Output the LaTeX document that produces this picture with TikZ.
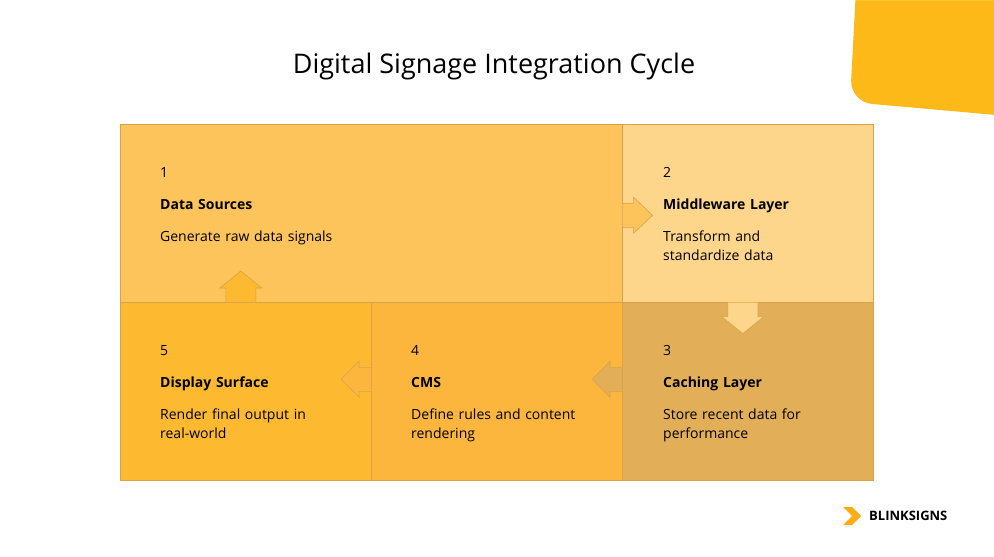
\documentclass[tikz,border=0pt]{standalone}
\usepackage{fontspec}
\setmainfont{Open Sans}
\usepackage{xcolor}
\usetikzlibrary{positioning}
\definecolor{pone}{HTML}{FDC45C}
\definecolor{ptwo}{HTML}{FED68B}
\definecolor{pthree}{HTML}{E2AE58}
\definecolor{pfour}{HTML}{FCB53D}
\definecolor{pfive}{HTML}{FDBA30}
\definecolor{edge}{HTML}{D9A24A}
\definecolor{accent}{HTML}{FDB917}
\tikzset{
    panel/.style = {draw=edge, line width=0.6pt, minimum height=178pt, inner sep=0pt},
    panel-text/.style = {text width=200pt, align=left, anchor=north west, font=\fontsize{14}{19}\selectfont, inner sep=0pt},
    block-arrow/.style = {draw=edge, line width=0.6pt, line join=miter},
}
\begin{document}
\begin{tikzpicture}[x=1pt,y=-1pt]
\useasboundingbox (0,0) rectangle (994,557);
\fill[white] (0,0) rectangle (994,557);
% corner
\fill[accent, rounded corners=22pt] (857,-30) -- (1030,-30) -- (1030,118) -- (850,102) -- cycle;
\fill[white] (0,-40) rectangle (1040,0) (994,0) rectangle (1040,130);
\node[font=\fontsize{27}{30}\selectfont] (title) at (494,66) {Digital Signage Integration Cycle};
% panels
\node[panel, fill=pone, minimum width=502pt, anchor=north west] (p1) at (120,124) {};
\node[panel, fill=ptwo, minimum width=251pt, anchor=north west] (p2) at (622,124) {};
\node[panel, fill=pthree, minimum width=251pt, anchor=north west] (p3) at (622,302) {};
\node[panel, fill=pfour, minimum width=251pt, anchor=north west] (p4) at (371,302) {};
\node[panel, fill=pfive, minimum width=251pt, anchor=north west] (p5) at (120,302) {};
% arrows
\draw[block-arrow, fill=pone] (p1.east) ++(0,-10) -- ++(11,0) -- ++(0,-6) -- ++(19,18) -- ++(-19,18) -- ++(0,-6) -- ++(-11,0);
\draw[block-arrow, fill=ptwo] (p2.south) ++(-20,0) -- ++(0,14) -- ++(-6,0) -- ++(21,17) -- ++(21,-17) -- ++(-6,0) -- ++(0,-14);
\draw[block-arrow, fill=pthree] (p3.west) ++(0,-24) -- ++(-12,0) -- ++(0,-6) -- ++(-18,18) -- ++(18,18) -- ++(0,-6) -- ++(12,0);
\draw[block-arrow, fill=pfour] (p4.west) ++(0,-24) -- ++(-12,0) -- ++(0,-6) -- ++(-18,18) -- ++(18,18) -- ++(0,-6) -- ++(12,0);
\draw[block-arrow, fill=pfive] (p5.north) ++(-20,0) -- ++(0,-14) -- ++(-6,0) -- ++(21,-17) -- ++(21,17) -- ++(-6,0) -- ++(0,14);
% texts
\node[panel-text] (t1) at (160,167) {1\\[13pt]\textbf{Data Sources}\\[13pt]Generate raw data signals};
\node[panel-text] (t2) at (663,167) {2\\[13pt]\textbf{Middleware Layer}\\[13pt]Transform and\\standardize data};
\node[panel-text] (t3) at (663,345) {3\\[13pt]\textbf{Caching Layer}\\[13pt]Store recent data for\\performance};
\node[panel-text] (t4) at (411,345) {4\\[13pt]\textbf{CMS}\\[13pt]Define rules and content\\rendering};
\node[panel-text] (t5) at (160,345) {5\\[13pt]\textbf{Display Surface}\\[13pt]Render final output in\\real-world};
% logo
\fill[accent!80!orange] (843,507) -- (852,507) -- (861,516) -- (852,525) -- (843,525) -- (852,516) -- cycle;
\node[font=\bfseries\fontsize{13}{15}\selectfont, anchor=west, inner sep=0pt] (logo) at (869,516) {BLINKSIGNS};
\end{tikzpicture}
\end{document}
